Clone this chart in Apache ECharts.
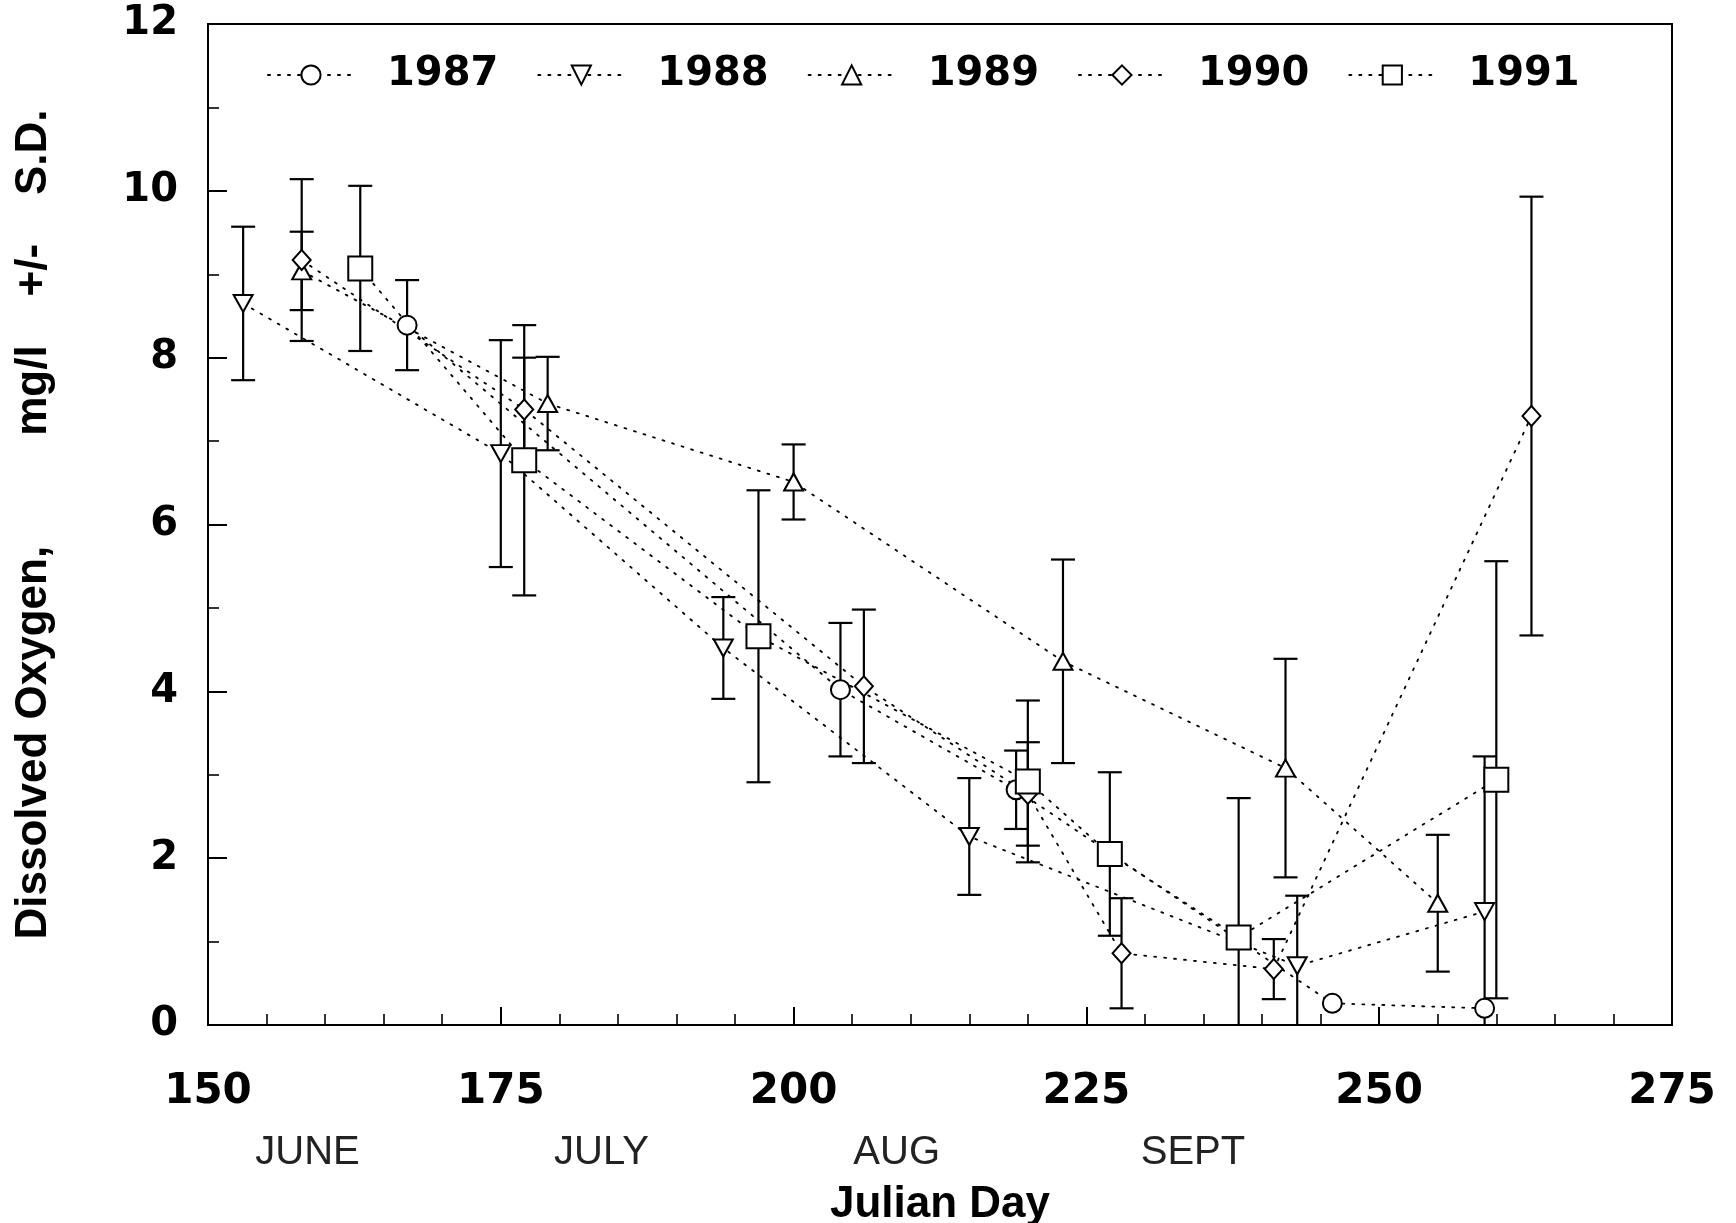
<!DOCTYPE html>
<html>
<head>
<meta charset="utf-8">
<script src="https://cdn.jsdelivr.net/npm/echarts@6/dist/echarts.min.js"></script>
<style>
html,body{margin:0;padding:0;background:#fff;}
#chart{width:1736px;height:1223px;}
</style>
</head>
<body>
<div id="chart"></div>
<script>
// ---- data ----
const years = ['1987', '1988', '1989', '1990', '1991'];

const days1987 = [167, 204, 219, 246, 259];
const do1987   = [8.39, 4.02, 2.82, 0.26, 0.20];
const sd1987   = [0.54, 0.80, 0.47, 0, 0];

const days1988 = [153, 175, 194, 215, 243, 259];
const do1988   = [8.65, 6.85, 4.52, 2.26, 0.71, 1.36];
const sd1988   = [0.92, 1.36, 0.61, 0.70, 0.84, 1.86];

const days1989 = [158, 179, 200, 223, 242, 255];
const do1989   = [9.04, 7.45, 6.51, 4.36, 3.08, 1.46];
const sd1989   = [0.47, 0.56, 0.45, 1.22, 1.31, 0.82];

const days1990 = [158, 177, 206, 220, 228, 241, 263];
const do1990   = [9.17, 7.38, 4.06, 2.77, 0.86, 0.67, 7.30];
const sd1990   = [0.97, 0.62, 0.92, 0.62, 0.66, 0.36, 2.63];

const days1991 = [163, 177, 197, 220, 227, 238, 260];
const do1991   = [9.07, 6.77, 4.66, 2.92, 2.05, 1.05, 2.94];
const sd1991   = [0.99, 1.62, 1.75, 0.97, 0.98, 1.67, 2.62];

const monthLabels = ['JUNE', 'JULY', 'AUG', 'SEPT'];
const monthDays   = [158.5, 183.6, 208.8, 234.1];

// ---- styling ----
const allDays = [days1987, days1988, days1989, days1990, days1991];
const allDO   = [do1987, do1988, do1989, do1990, do1991];
const allSD   = [sd1987, sd1988, sd1989, sd1990, sd1991];
const symbols = ['circle', 'triangle', 'triangle', 'diamond', 'rect'];
const symRot  = [0, 180, 0, 0, 0];
const symSize = [[19, 19], [19, 17], [19, 17], [18, 20], [24, 24]];

const chart = echarts.init(document.getElementById('chart'), null, {renderer: 'canvas'});

function errRender(params, api) {
  const x = api.value(0), y = api.value(1), sd = api.value(2);
  if (!(sd > 0)) return;
  const hi = api.coord([x, y + sd]);
  const lo = api.coord([x, y - sd]);
  const cw = 12;
  const st = {stroke: '#000', lineWidth: 2.2, fill: null};
  return {
    type: 'group',
    children: [
      {type: 'line', shape: {x1: hi[0], y1: hi[1], x2: lo[0], y2: lo[1]}, style: st},
      {type: 'line', shape: {x1: hi[0] - cw, y1: hi[1], x2: hi[0] + cw, y2: hi[1]}, style: st},
      {type: 'line', shape: {x1: lo[0] - cw, y1: lo[1], x2: lo[0] + cw, y2: lo[1]}, style: st}
    ]
  };
}

const series = [];
years.forEach((yr, k) => {
  series.push({
    name: yr + '_err',
    type: 'custom',
    renderItem: errRender,
    data: allDays[k].map((d, i) => [d, allDO[k][i], allSD[k][i]]),
    clip: true,
    z: 1,
    silent: true,
    legendHoverLink: false
  });
});
years.forEach((yr, k) => {
  series.push({
    name: yr,
    type: 'line',
    data: allDays[k].map((d, i) => [d, allDO[k][i]]),
    symbol: symbols[k],
    symbolRotate: symRot[k],
    symbolSize: symSize[k],
    showAllSymbol: true,
    lineStyle: {color: '#000', width: 1.8, type: [2, 8], cap: 'round'},
    itemStyle: {color: '#fff', borderColor: '#000', borderWidth: 2},
    z: 3,
    emphasis: {disabled: true}
  });
});

const option = {
  animation: false,
  backgroundColor: '#fff',
  grid: {left: 208, right: 64, top: 24, bottom: 198, containLabel: false, outerBoundsMode: 'none',
         show: true, borderColor: '#000', borderWidth: 2, backgroundColor: 'transparent'},
  legend: {
    data: years,
    left: 262,
    top: 50,
    itemWidth: 86,
    itemHeight: 24,
    itemGap: 39,
    textStyle: {fontSize: 40, fontWeight: 'bold', fontFamily: 'DejaVu Sans', color: '#000', padding: [0, 0, 0, 28]},
    selectedMode: false
  },
  xAxis: {
    type: 'value',
    min: 150, max: 275, interval: 25,
    name: 'Julian Day',
    nameLocation: 'middle',
    nameGap: 158,
    nameTextStyle: {fontSize: 44, fontWeight: 'bold', fontFamily: 'Liberation Sans', color: '#000'},
    axisLine: {lineStyle: {color: '#000', width: 2}},
    axisTick: {inside: true, length: 18, lineStyle: {color: '#000', width: 2}},
    minorTick: {show: true, splitNumber: 5, length: 11, lineStyle: {color: '#000', width: 1.6}},
    splitLine: {show: false},
    axisLabel: {margin: 46, fontSize: 42, fontWeight: 'bold', fontFamily: 'DejaVu Sans', color: '#000'}
  },
  yAxis: {
    type: 'value',
    min: 0, max: 12, interval: 2,
    name: 'Dissolved Oxygen,         mg/l    +/-    S.D.',
    nameLocation: 'middle',
    nameRotate: 90,
    nameGap: 152,
    nameTextStyle: {fontSize: 44, fontWeight: 'bold', fontFamily: 'Liberation Sans', color: '#000'},
    axisLine: {lineStyle: {color: '#000', width: 2}},
    axisTick: {inside: true, length: 19, lineStyle: {color: '#000', width: 2}},
    minorTick: {show: true, splitNumber: 2, length: 11, lineStyle: {color: '#000', width: 1.6}},
    splitLine: {show: false},
    axisLabel: {margin: 30, fontSize: 40, fontWeight: 'bold', fontFamily: 'DejaVu Sans', color: '#000'}
  },
  series: series
};
chart.setOption(option);

const monthY = 1153;
chart.setOption({
  graphic: monthLabels.map((m, i) => ({
    type: 'text',
    x: chart.convertToPixel({xAxisIndex: 0}, monthDays[i]),
    y: monthY,
    style: {text: m, fontSize: 40, fontFamily: 'Liberation Sans', fill: '#222', align: 'center', verticalAlign: 'middle'},
    silent: true
  }))
});
</script>
</body>
</html>
